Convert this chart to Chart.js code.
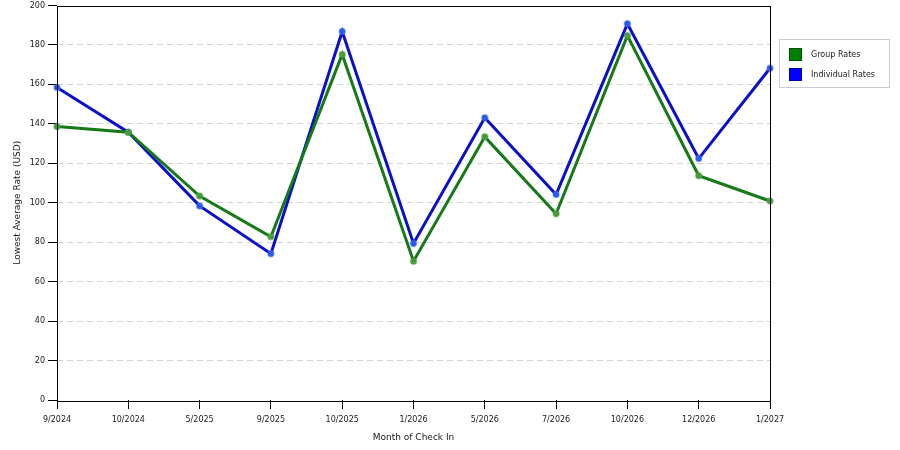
<!DOCTYPE html>
<html>
<head>
<meta charset="utf-8">
<script src="https://cdn.jsdelivr.net/npm/chart.js@4.4.1/dist/chart.umd.min.js"></script>
<style>
  html, body { margin: 0; padding: 0; background: #fff; }
  #wrap { width: 900px; height: 450px; position: relative; }
</style>
</head>
<body>
<div id="wrap"><canvas id="rateChart"></canvas></div>
<script>
var months = ['9/2024', '10/2024', '5/2025', '9/2025', '10/2025', '1/2026',
              '5/2026', '7/2026', '10/2026', '12/2026', '1/2027'];
var groupRates = [138.7, 135.8, 103.4, 82.7, 175.2, 70.4, 133.4, 94.4, 184.7, 113.7, 100.9];
var individualRates = [158.4, 135.8, 98.4, 74.2, 186.8, 79.4, 143.1, 104.2, 190.7, 122.4, 168.2];
var yTicks = [0, 20, 40, 60, 80, 100, 120, 140, 160, 180, 200];

var FONT = 'DejaVu Sans, Verdana, sans-serif';
var TEXT = '#1a1a1a';

// frame round the plot plus the boxed legend on the right
var framePlugin = {
    id: 'frame',
    afterDraw: function(chart) {
        var ctx = chart.ctx;
        var a = chart.chartArea;
        ctx.save();
        ctx.strokeStyle = '#000';
        ctx.lineWidth = 1;
        ctx.strokeRect(Math.round(a.left) + 0.5, Math.round(a.top) + 0.5,
                       Math.round(a.right - a.left), Math.round(a.bottom - a.top));

        ctx.fillStyle = '#fff';
        ctx.strokeStyle = '#ccc';
        ctx.fillRect(779.5, 39.5, 110, 48);
        ctx.strokeRect(779.5, 39.5, 110, 48);

        ctx.font = '8px ' + FONT;
        ctx.textBaseline = 'middle';
        chart.data.datasets.forEach(function(ds, i) {
            var y = 48 + i * 20;
            ctx.fillStyle = ds.legendColor;
            ctx.fillRect(789, y, 13, 13);
            ctx.strokeStyle = 'rgba(0,0,0,0.35)';
            ctx.strokeRect(789.5, y + 0.5, 12, 12);
            ctx.fillStyle = TEXT;
            ctx.fillText(ds.label, 811, y + 7);
        });
        ctx.restore();
    }
};

new Chart(document.getElementById('rateChart'), {
    type: 'line',
    data: {
        labels: months,
        datasets: [{
            label: 'Group Rates',
            data: groupRates,
            borderColor: '#157a17',
            backgroundColor: '#157a17',
            legendColor: '#008000',
            borderWidth: 3,
            pointRadius: 3,
            pointBackgroundColor: '#4a9a3a',
            pointBorderColor: 'rgba(80,160,70,0.5)',
            pointBorderWidth: 1.5,
            tension: 0
        }, {
            label: 'Individual Rates',
            data: individualRates,
            borderColor: '#0a0fc8',
            backgroundColor: '#0a0fc8',
            legendColor: '#0000ff',
            borderWidth: 3,
            pointRadius: 3,
            pointBackgroundColor: '#2a5ae8',
            pointBorderColor: 'rgba(70,110,240,0.5)',
            pointBorderWidth: 1.5,
            tension: 0
        }]
    },
    options: {
        responsive: true,
        maintainAspectRatio: false,
        animation: false,
        layout: { padding: { top: 5, right: 130, left: 0, bottom: 0 } },
        plugins: {
            legend: { display: false },
            tooltip: { enabled: false }
        },
        scales: {
            x: {
                offset: false,
                afterFit: function(scale) { scale.height = 50; },
                grid: {
                    drawOnChartArea: false,
                    drawTicks: true,
                    tickLength: 9,
                    tickColor: '#000'
                },
                border: { display: false },
                ticks: {
                    color: TEXT,
                    font: { family: FONT, size: 8 },
                    padding: 6,
                    maxRotation: 0,
                    autoSkip: false
                },
                title: {
                    display: true,
                    text: 'Month of Check In',
                    color: TEXT,
                    font: { family: FONT, size: 9 },
                    padding: { top: 0, bottom: 7 }
                }
            },
            y: {
                min: 0,
                max: 200,
                afterFit: function(scale) {
                    scale.width = 57;
                    scale.paddingTop = 0;
                },
                afterBuildTicks: function(scale) {
                    scale.ticks = yTicks.map(function(v) { return { value: v }; });
                },
                grid: {
                    color: function(ctx) {
                        var v = ctx.tick && ctx.tick.value;
                        return (v === 0 || v === 200) ? 'rgba(0,0,0,0)' : '#d4d4d4';
                    },
                    tickColor: '#000',
                    tickLength: 9,
                    lineWidth: 1
                },
                border: { display: false, dash: [6, 4] },
                ticks: {
                    color: TEXT,
                    font: { family: FONT, size: 8 },
                    padding: 3
                },
                title: {
                    display: true,
                    text: 'Lowest Average Rate (USD)',
                    color: TEXT,
                    font: { family: FONT, size: 9 },
                    padding: { top: 12, bottom: 0 }
                }
            }
        }
    },
    plugins: [framePlugin]
});
</script>
</body>
</html>
